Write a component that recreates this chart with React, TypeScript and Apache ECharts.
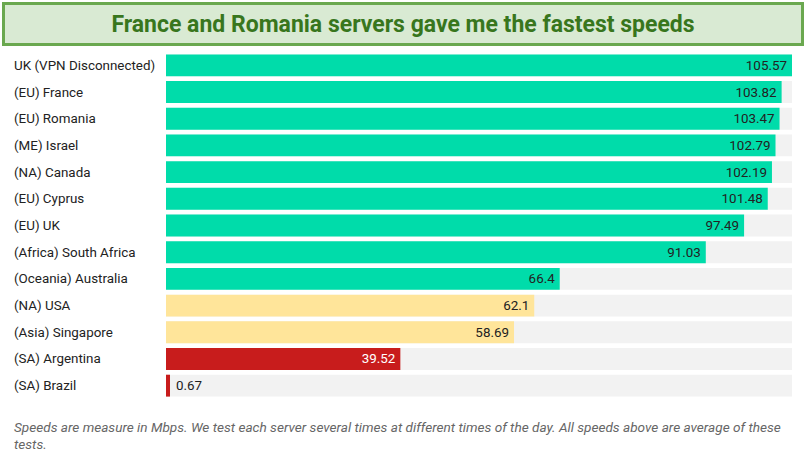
import React, { useEffect, useRef } from "react";
import * as echarts from "echarts";

const categories = [
  "UK (VPN Disconnected)",
  "(EU) France",
  "(EU) Romania",
  "(ME) Israel",
  "(NA) Canada",
  "(EU) Cyprus",
  "(EU) UK",
  "(Africa) South Africa",
  "(Oceania) Australia",
  "(NA) USA",
  "(Asia) Singapore",
  "(SA) Argentina",
  "(SA) Brazil",
];
const speeds = [105.57, 103.82, 103.47, 102.79, 102.19, 101.48, 97.49, 91.03, 66.4, 62.1, 58.69, 39.52, 0.67];
const tiers = ["fast", "fast", "fast", "fast", "fast", "fast", "fast", "fast", "fast", "mid", "mid", "slow", "slow"];
const tierColors: Record<string, string> = { fast: "#00dcaa", mid: "#ffe59a", slow: "#c81c1c" };
const titleText = "France and Romania servers gave me the fastest speeds";
const footnote =
  "Speeds are measure in Mbps. We test each server several times at different times of the day. All speeds above are average of these\ntests.";

export default function App() {
  const ref = useRef<HTMLDivElement>(null);
  useEffect(() => {
    if (!ref.current) return;
    const chart = echarts.init(ref.current, null, { renderer: "svg" });
    const data = speeds.map((v, i) => {
      const tier = tiers[i];
      const small = v < 5;
      return {
        value: v,
        itemStyle: { color: tierColors[tier] },
        label: {
          position: small ? "right" : "insideRight",
          color: tier === "slow" && !small ? "#ffffff" : "#222222",
          distance: small ? 6 : 5,
        },
      };
    });
    chart.setOption({
      animation: false,
      backgroundColor: "#ffffff",
      grid: { left: 166, right: 14, top: 52, bottom: 52, containLabel: false },
      xAxis: {
        type: "value",
        min: 0,
        max: 105.57,
        show: false,
      },
      yAxis: {
        type: "category",
        data: categories,
        inverse: true,
        axisLine: { show: false },
        axisTick: { show: false },
        axisLabel: {
          align: "left",
          margin: 152,
          color: "#222222",
          fontSize: 13.4,
          fontFamily: "Roboto",
        },
      },
      series: [
        {
          type: "bar",
          data,
          barCategoryGap: "18%",
          showBackground: true,
          backgroundStyle: { color: "#f2f2f2" },
          label: {
            show: true,
            fontSize: 13.4,
            fontFamily: "Roboto",
            formatter: (p: any) => String(p.value),
          },
        },
      ],
      graphic: [
        {
          type: "rect",
          shape: { x: 3.5, y: 3.5, width: 799, height: 41 },
          style: { fill: "#d9ead3", stroke: "#6aa84f", lineWidth: 3 },
        },
        {
          type: "text",
          x: 403,
          y: 24,
          style: {
            text: titleText,
            fill: "#38761d",
            font: "bold 23px Roboto",
            align: "center",
            verticalAlign: "middle",
          },
        },
        {
          type: "text",
          x: 14,
          y: 418,
          style: {
            text: footnote,
            fill: "#666666",
            font: "italic 13.6px Roboto",
            lineHeight: 17,
            align: "left",
            verticalAlign: "top",
          },
        },
      ],
    });
    return () => chart.dispose();
  }, []);
  return (
    <div
      ref={ref}
      style={{ position: "fixed", left: 0, top: 0, width: 806, height: 451 }}
    />
  );
}
